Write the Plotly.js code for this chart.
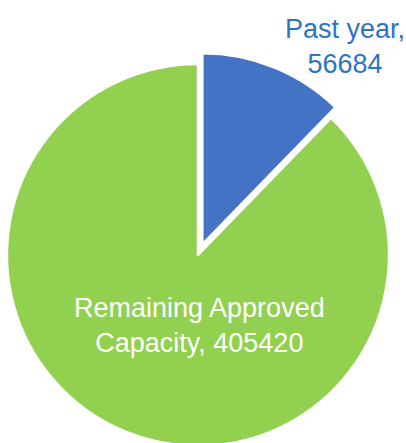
<!DOCTYPE html>
<html>
<head>
<meta charset="utf-8">
<script src="https://cdn.plot.ly/plotly-3.0.1.min.js"></script>
<style>
html,body{margin:0;padding:0;overflow:hidden;background:#fff;width:406px;height:443px;}
#chart{position:absolute;left:-10px;top:0;width:420px;height:470px;}
</style>
</head>
<body>
<div id="chart"></div>
<script>
const labels = ["Past year", "Remaining Approved<br>Capacity"];
const values = [56684, 405420];
const colors = ["#4472C4", "#92D050"];
const pulls = [0.06, 0];
const labelColors = ["#2E75C0", "#FFFFFF"];

const trace = {
  type: "pie",
  labels: labels,
  values: values,
  sort: false,
  direction: "clockwise",
  rotation: 0,
  pull: pulls,
  textinfo: "none",
  hoverinfo: "none",
  marker: {colors: colors, line: {color: "#FFFFFF", width: 2.5}},
  domain: {x: [0.0131, 0.9774], y: [0.0266, 0.8883]}
};

const labelPos = [[0.8452, 0.902], [0.4988, 0.3064]];
const annotations = labels.map((l, i) => ({
  xref: "paper", yref: "paper",
  x: labelPos[i][0], y: labelPos[i][1],
  xanchor: "center", yanchor: "middle",
  showarrow: false,
  text: l + ", " + values[i],
  font: {family: "Liberation Sans, Arial, sans-serif", size: 27, color: labelColors[i]}
}));
annotations[0].text = labels[0] + ",<br>" + values[0];

const layout = {
  width: 420, height: 470,
  margin: {l: 0, r: 0, t: 0, b: 0},
  paper_bgcolor: "#FFFFFF",
  showlegend: false,
  annotations: annotations
};

Plotly.newPlot("chart", [trace], layout, {staticPlot: true, displayModeBar: false});
</script>
</body>
</html>
